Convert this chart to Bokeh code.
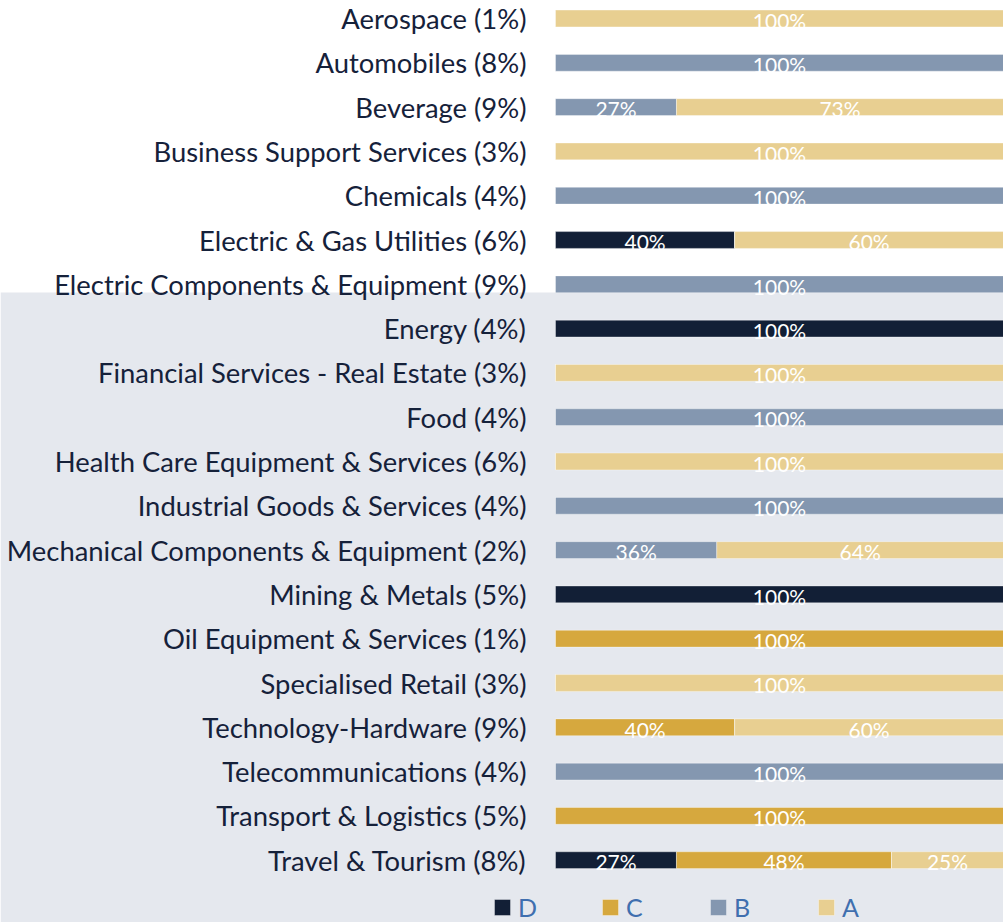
from bokeh.plotting import figure
from bokeh.models import Range1d, BoxAnnotation, Legend, LegendItem, ColumnDataSource
from bokeh.core.properties import value
from bokeh.embed import file_html
from bokeh.resources import INLINE

categories = [
    "Aerospace (1%)", "Automobiles (8%)", "Beverage (9%)", "Business Support Services (3%)",
    "Chemicals (4%)", "Electric & Gas Utilities (6%)", "Electric Components & Equipment (9%)",
    "Energy (4%)", "Financial Services - Real Estate (3%)", "Food (4%)",
    "Health Care Equipment & Services (6%)", "Industrial Goods & Services (4%)",
    "Mechanical Components & Equipment (2%)", "Mining & Metals (5%)",
    "Oil Equipment & Services (1%)", "Specialised Retail (3%)", "Technology-Hardware (9%)",
    "Telecommunications (4%)", "Transport & Logistics (5%)", "Travel & Tourism (8%)",
]
D = [0, 0, 0, 0, 0, 40, 0, 100, 0, 0, 0, 0, 0, 100, 0, 0, 0, 0, 0, 27]
C = [0, 0, 0, 0, 0, 0, 0, 0, 0, 0, 0, 0, 0, 0, 100, 0, 40, 0, 100, 48]
B = [0, 100, 27, 0, 100, 0, 100, 0, 0, 100, 0, 100, 36, 0, 0, 0, 0, 100, 0, 0]
A = [100, 0, 73, 100, 0, 60, 0, 0, 100, 0, 100, 0, 64, 0, 0, 100, 60, 0, 0, 25]
series_names = ["D", "C", "B", "A"]
series_values = [D, C, B, A]
colors = ["#121f36", "#d6a83e", "#8497b0", "#e8cf91"]

FONT = "Lato"
W, H = 1003, 922
x0_px, x1_px = 555, 1003
px_per_x = (x1_px - x0_px) / 1.0
row0_px, row_step = 18, 44.3

p = figure(width=W, height=H, output_backend="svg", toolbar_location=None,
           x_range=Range1d(-x0_px / px_per_x, (W - x0_px) / px_per_x),
           y_range=Range1d((H - row0_px) / row_step, -row0_px / row_step),
           min_border=0, outline_line_color=None)
p.axis.visible = False
p.grid.visible = False
p.background_fill_color = "white"
p.border_fill_color = "white"

p.add_layout(BoxAnnotation(top=(292 - row0_px) / row_step, fill_color="#e5e8ee",
                           fill_alpha=1, line_alpha=0, level="underlay"))

ys = list(range(len(categories)))
p.text(x=[-29 / px_per_x] * len(categories), y=ys, text=categories,
       text_font=value(FONT), text_font_size="27.4px", text_color="#15213a",
       text_align="right", text_baseline="middle")

left = [0.0] * len(categories)
renderers = []
for name, vals, col in zip(series_names, series_values, colors):
    lefts = left[:]
    rights = [l + v / 100 for l, v in zip(lefts, vals)]
    src = ColumnDataSource(dict(y=ys, left=lefts, right=rights))
    r = p.hbar(y="y", left="left", right="right", height=0.38, source=src,
               fill_color=col, line_color="white", line_width=0.6, line_alpha=0.6)
    renderers.append(r)
    lx, ly, lt = [], [], []
    for i, v in enumerate(vals):
        if v > 0:
            lx.append((lefts[i] + rights[i]) / 2)
            ly.append(i + 0.04)
            lt.append(f"{v}%")
    p.text(x=lx, y=ly, text=lt, text_font=value(FONT), text_font_size="21px",
           text_color="white", text_align="center", text_baseline="middle")
    left = rights

legend = Legend(items=[LegendItem(label=n, renderers=[r]) for n, r in zip(series_names, renderers)],
                orientation="horizontal", location=(492, 0), padding=0, margin=0,
                spacing=62, glyph_width=20, glyph_height=20, label_standoff=6,
                label_height=20, label_text_font=FONT, label_text_font_size="25px",
                label_text_color="#3f6faf", background_fill_alpha=0, border_line_alpha=0)
p.add_layout(legend, "center")

open("out.html", "w").write(file_html(p, INLINE))
